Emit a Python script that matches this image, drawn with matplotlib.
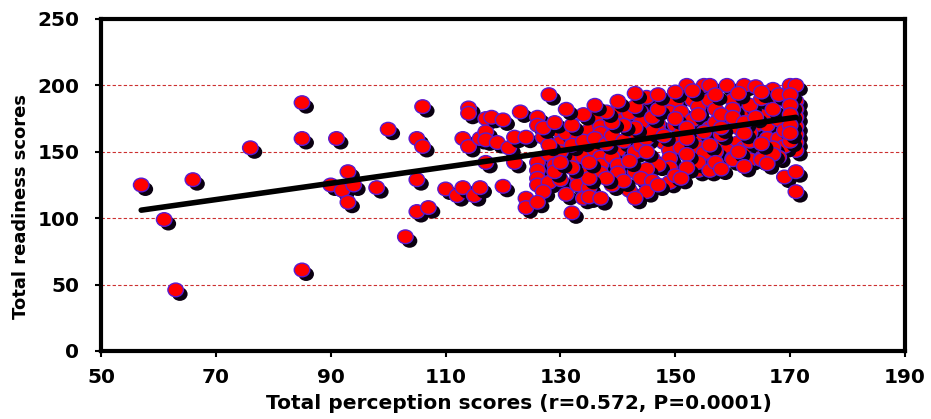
import matplotlib
matplotlib.use("Agg")
import matplotlib.pyplot as plt
import matplotlib.patheffects as pe
from matplotlib.path import Path
from matplotlib.transforms import Affine2D
import numpy as np

# perception score (x) and readiness score (y)
perception = [
    57, 61, 63, 66, 76, 85, 85, 85,
    90, 91, 92, 93, 93, 94, 98, 100, 103, 105, 105, 105, 106, 106, 107,
    110, 112, 113, 113, 114, 114, 114, 115, 116, 116, 117, 117, 117, 117, 118, 119, 120,
    120, 121, 122, 122, 123, 124, 124, 124, 126, 126, 126, 126, 126, 126, 127, 128,
    128, 130, 130, 130, 131, 131, 131, 132, 132, 133, 133, 133, 134, 134, 135, 135,
    135, 136, 136,
    136, 137, 137, 137, 137, 137, 137, 135, 140, 141, 142, 142, 144, 145, 144, 144,
    147, 147, 148, 150, 153, 154, 149, 151, 150, 153, 154, 151, 154, 148, 150, 149,
    151, 154, 146, 149, 153, 155, 149, 149, 140, 139, 140, 140, 143, 142, 139, 152, 155,
    156, 159, 162, 164, 167, 170, 171, 171, 171, 171, 171, 171, 171, 171, 169, 171,
    171, 169, 169, 166, 166, 160, 162, 156, 157, 160, 159, 161, 164, 166, 168, 156,
    156, 158, 161, 163, 166, 168, 169, 167, 164, 162, 159, 157, 155, 160, 163, 165,
    154, 155, 168, 165, 160, 154, 156, 137, 139,
    128, 129, 129, 130, 132, 134, 136, 138, 139, 141, 143, 144, 145, 146, 143, 141,
    139, 138, 143, 146, 147, 150, 152, 152, 155, 157, 158, 160, 162, 163, 165, 167,
    169, 170, 167, 163, 158, 156, 152, 147, 145, 144, 146, 141, 138, 135, 132, 130,
    128, 127, 129, 132, 134, 131, 136, 140, 143, 147, 150, 153, 157, 161, 165, 168,
    170, 170, 170, 170, 170, 164, 162, 158, 148, 145, 142, 135, 150, 152, 157, 161,
    165, 145, 147, 143, 151, 158, 162, 166, 127, 126,
]
readiness = [
    125, 99, 46, 129, 153, 187, 160, 61,
    125, 160, 121, 135, 112, 125, 123, 167, 86, 160, 129, 105, 184, 154, 108,
    122, 117, 123, 160, 183, 179, 154, 117, 123, 160, 175, 165, 142, 159, 176, 157, 174,
    124, 153, 161, 142, 180, 115, 108, 161, 176, 170, 142, 136, 130, 125, 161, 193,
    127, 165, 157, 129, 164, 149, 118, 144, 104, 131, 125, 160, 146, 115, 136, 166,
    123, 175, 151,
    176, 169, 164, 146, 140, 134, 114, 116, 180, 174, 164, 179, 187, 191, 180, 172,
    171, 166, 187, 187, 189, 184, 180, 180, 170, 174, 178, 164, 160, 157, 157, 151,
    153, 153, 145, 145, 142, 148, 138, 127, 151, 146, 140, 134, 135, 121, 126, 200, 200,
    200, 200, 200, 199, 197, 200, 200, 188, 182, 176, 169, 163, 157, 151, 131, 135,
    120, 189, 176, 187, 178, 189, 179, 189, 182, 182, 172, 168, 170, 170, 174, 168,
    159, 157, 157, 164, 160, 160, 154, 153, 151, 153, 151, 150, 149, 145, 144, 145,
    136, 139, 146, 144, 144, 142, 136, 115, 125,
    148, 140, 135, 150, 155, 158, 160, 156, 162, 158, 150, 155, 160, 165, 168, 170,
    172, 180, 184, 176, 182, 175, 168, 160, 165, 172, 178, 176, 172, 185, 190, 182,
    166, 158, 148, 158, 163, 155, 148, 140, 137, 130, 128, 128, 130, 130, 138, 142,
    155, 168, 172, 170, 178, 182, 185, 188, 194, 193, 195, 196, 193, 194, 195, 193,
    193, 185, 178, 170, 164, 176, 164, 168, 162, 150, 143, 142, 132, 138, 142, 150,
    156, 120, 125, 115, 130, 137, 139, 141, 120, 112,
]

# regression line as printed on the chart
fit_slope = 0.613
fit_intercept = 71.1

x_ticks = [50, 70, 90, 110, 130, 150, 170, 190]
y_ticks = [0, 50, 100, 150, 200, 250]
x_label = "Total perception scores (r=0.572, P=0.0001)"
y_label = "Total readiness scores"

fig = plt.figure(figsize=(9.31, 4.19), dpi=100)
ax = fig.add_axes([0.1085, 0.1623, 0.8636, 0.7924])

# red dashed horizontal gridlines
for yv in y_ticks[1:-1]:
    ax.axhline(yv, color="#cc3030", lw=0.8, ls=(0, (3, 2)), zorder=1)

# slightly flattened circle, like the original markers
oval = Path.unit_circle().transformed(Affine2D().scale(1.0, 0.88))
shadow = [pe.SimplePatchShadow(offset=(3, -3), shadow_rgbFace="#0a0010", alpha=1.0),
          pe.Normal()]
for i, (xv, yv) in enumerate(zip(perception, readiness)):
    ax.scatter([xv], [yv], s=125, marker=oval, facecolor="#ff0000",
               edgecolor="#5a1ad0", linewidth=1.0, zorder=2 + i * 0.001,
               path_effects=shadow)

fx = np.array([min(perception), max(perception)])
ax.plot(fx, fit_intercept + fit_slope * fx, color="black", lw=4,
        solid_capstyle="round", zorder=5)

ax.set_xlim(50, 190)
ax.set_ylim(0, 250)
ax.set_xticks(x_ticks)
ax.set_yticks(y_ticks)
for s in ax.spines.values():
    s.set_linewidth(3)
    s.set_color("black")
ax.tick_params(direction="out", length=4.5, width=1.5, color="black")
ax.tick_params(axis="y", pad=11)
ax.tick_params(axis="x", pad=8)
for lab in ax.get_xticklabels() + ax.get_yticklabels():
    lab.set_fontfamily("DejaVu Sans")
    lab.set_fontweight("bold")
    lab.set_fontsize(14.5)

ax.set_xlabel(x_label, fontfamily="DejaVu Sans", fontweight="bold",
              fontsize=14.5)
ax.xaxis.set_label_coords(0.52, -0.13)
ax.set_ylabel(y_label, fontfamily="DejaVu Sans", fontweight="bold",
              fontsize=13)
ax.yaxis.set_label_coords(-0.088, 0.434)

fig.savefig("out.png", dpi=100)
